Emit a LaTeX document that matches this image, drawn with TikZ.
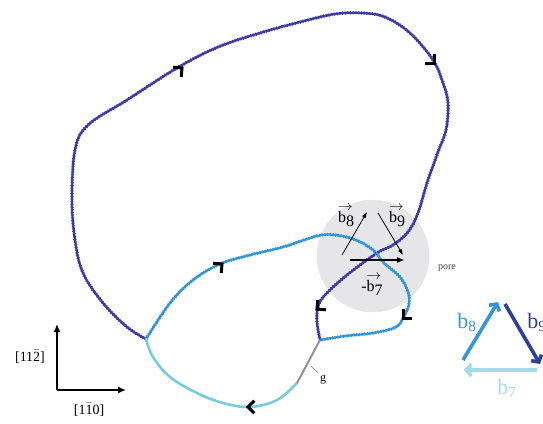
\documentclass[tikz,border=0pt]{standalone}
\usepackage{fontspec}
\setmainfont{Liberation Serif}
\usetikzlibrary{arrows.meta}
\definecolor{dkb}{RGB}{62,58,168}
\definecolor{mdb}{RGB}{52,150,214}
\definecolor{cyb}{RGB}{118,204,222}
\definecolor{nvb}{RGB}{45,65,155}
\definecolor{ltb}{RGB}{165,218,236}
\definecolor{gseg}{RGB}{150,146,150}
\definecolor{porefill}{RGB}{230,230,232}
\newcommand\arrb[1]{\rlap{\raisebox{0.75em}{\scalebox{0.85}[0.8]{$\rightarrow$}}}b\raisebox{-0.2em}{#1}}
\tikzset{
  chev/.pic={\draw[line width=3pt,line join=miter,line cap=butt] (-6.3pt,6.3pt) -- (0,0) -- (-6.3pt,-6.3pt);},
  disl/.style={line width=2.3pt,line join=round,line cap=round},
  beads/.style={line width=3.3pt,dash pattern=on 0.9pt off 1.8pt},
  vecarrow/.style={line width=0.8pt,-{Latex[length=6pt,width=4.5pt]}},
  legarrow/.style={line width=3.6pt,-{Straight Barb[length=5pt,width=12pt]}},
  axarrow/.style={line width=1.5pt,-{Latex[length=8pt,width=7pt]}},
  lbl/.style={inner sep=0pt,font=\fontsize{16}{16}\selectfont},
  leglbl/.style={inner sep=0pt,font=\fontsize{22}{22}\selectfont},
  axlbl/.style={inner sep=0pt,font=\fontsize{14}{14}\selectfont},
}
\begin{document}
\begin{tikzpicture}[x=1pt,y=-1pt]
\useasboundingbox (0,0) rectangle (543,423);
% pore
\node[circle,fill=porefill,draw=gray!20,minimum size=112pt,inner sep=0pt] (pore) at (373,256) {};
\node[inner sep=0pt,font=\fontsize{10}{10}\selectfont,text=black!75] (porelbl) at (447,268) {pore};
% junctions
\coordinate (J1) at (146,339);
\coordinate (J2) at (320,340);
\coordinate (G) at (297,383);
\foreach \st in {disl,beads}{
% dark loop
\draw[\st,dkb] plot[smooth,tension=0.6] coordinates {(146,339) (127,327) (103,303) (83,273) (75,240) (72,200) (75,150) (88,125) (127,100) (177,68) (218,47) (260,33) (300,22) (335,14) (362,13) (385,17) (410,33) (433,60) (443,83) (448,103) (446,130) (438,152) (427,183) (418,213) (408,232) (393,245) (377,253) (347,275) (325,295) (318,307) (317,322) (320,340)};
% medium loop
\draw[\st,mdb] plot[smooth,tension=0.6] coordinates {(146,339) (170,303) (193,280) (220,264) (250,255) (283,247) (317,236) (335,235) (356,240) (373,250) (384,263) (400,277) (408,292) (409,304) (404,316) (396,327) (373,333) (345,336) (320,340)};
}
% cyan arc
\draw[disl,cyb,line width=2.6pt] plot[smooth,tension=0.6] coordinates {(297,383) (277,400) (250,407) (223,403) (197,393) (170,377) (153,357) (146,339)};
% gray segment
\draw[line width=2pt,gseg] (J2) -- (G);
\coordinate (gl1) at (311,366);
\coordinate (gl2) at (318,373);
\draw[gray,line width=0.4pt] (gl1) -- (gl2);
\node[inner sep=0pt,font=\fontsize{12}{12}\selectfont] (glbl) at (323,380) {g};
% chevrons
\pic[rotate=40] at (182,68) {chev};
\pic[rotate=-45] at (434,63) {chev};
\pic[rotate=220] at (317,309) {chev};
\pic[rotate=40] at (222,264) {chev};
\pic[rotate=225] at (403,318) {chev};
\pic[rotate=180] at (248,407) {chev};
% pore vectors
\coordinate (v8a) at (342,255); \coordinate (v8b) at (367,212);
\coordinate (v9a) at (378,213); \coordinate (v9b) at (403,255);
\coordinate (v7a) at (350,260); \coordinate (v7b) at (405,260);
\draw[vecarrow] (v8a) -- (v8b);
\draw[vecarrow] (v9a) -- (v9b);
\draw[line width=1.8pt,-{Latex[length=8pt,width=6pt]}] (v7a) -- (v7b);
\node[lbl] (l8) at (346,216) {\arrb{8}};
\node[lbl] (l9) at (397,216) {\arrb{9}};
\node[lbl] (l7) at (372,285) {-\arrb{7}};
% legend triangle
\coordinate (t1) at (463,360); \coordinate (t2) at (498,302);
\coordinate (t3) at (505,304); \coordinate (t4) at (540,364);
\coordinate (t5) at (537,370); \coordinate (t6) at (464,370);
\draw[legarrow,mdb] (t1) -- (t2);
\draw[legarrow,nvb] (t3) -- (t4);
\draw[legarrow,ltb] (t5) -- (t6);
\node[leglbl,text=mdb] (lb8) at (467,322) {b\textsubscript{8}};
\node[leglbl,text=nvb] (lb9) at (537,322) {b\textsubscript{9}};
\node[leglbl,text=ltb] (lb7) at (507,388) {b\textsubscript{7}};
% axes
\coordinate (O) at (57,390);
\coordinate (Ay) at (57,324);
\coordinate (Ax) at (126,390);
\draw[axarrow] (O) -- (Ay);
\draw[axarrow] (O) -- (Ax);
\node[axlbl] (ly) at (30,357) {[11$\bar{\mbox{2}}$]};
\node[axlbl] (lx) at (89,410) {[1$\bar{\mbox{1}}$0]};
\end{tikzpicture}
\end{document}
